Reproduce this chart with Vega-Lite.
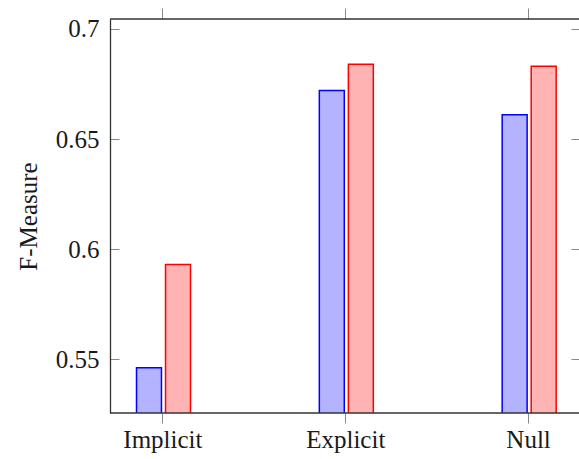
{
  "$schema": "https://vega.github.io/schema/vega-lite/v6.json",
  "autosize": "none",
  "width": 469,
  "height": 394,
  "padding": {"left": 110, "top": 19, "right": 0, "bottom": 46},
  "background": "white",
  "config": {
    "view": {"stroke": null},
    "font": "Liberation Serif, DejaVu Serif, serif",
    "axis": {
      "labelFont": "Liberation Serif, DejaVu Serif, serif",
      "titleFont": "Liberation Serif, DejaVu Serif, serif",
      "labelFontSize": 25,
      "titleFontSize": 25,
      "titleFontWeight": "normal",
      "labelColor": "#1a1a1a",
      "titleColor": "#1a1a1a",
      "domainColor": "#333",
      "domainWidth": 1.3,
      "tickColor": "#888",
      "tickWidth": 1,
      "grid": false
    }
  },
  "data": {
    "values": [
      {"category": "Implicit", "series": "A", "value": 0.5462},
      {"category": "Implicit", "series": "B", "value": 0.593},
      {"category": "Explicit", "series": "A", "value": 0.672},
      {"category": "Explicit", "series": "B", "value": 0.684},
      {"category": "Null", "series": "A", "value": 0.661},
      {"category": "Null", "series": "B", "value": 0.683}
    ]
  },
  "layer": [
    {
      "mark": {"type": "bar", "clip": true, "strokeWidth": 1.5},
      "encoding": {
        "x": {
          "field": "category",
          "type": "nominal",
          "sort": ["Implicit", "Explicit", "Null"],
          "scale": {"domain": ["Implicit", "Explicit", "Null"], "range": [-38.5, 510], "paddingInner": 0, "paddingOuter": 0},
          "axis": {"orient": "bottom", "title": null, "labelAngle": 0, "tickSize": 10, "labelPadding": 4, "domain": false}
        },
        "xOffset": {
          "field": "series",
          "type": "nominal",
          "scale": {"domain": ["A", "B"], "range": [65, 119], "paddingInner": 0.14, "paddingOuter": 0}
        },
        "y": {
          "field": "value",
          "type": "quantitative",
          "scale": {"domain": [0.5256, 0.7045], "zero": false, "nice": false},
          "axis": {"orient": "left", "title": "F-Measure", "values": [0.55, 0.6, 0.65, 0.7], "format": "~g", "tickSize": -9, "labelPadding": 20, "titlePadding": 14}
        },
        "fill": {
          "field": "series",
          "type": "nominal",
          "scale": {"domain": ["A", "B"], "range": ["#b3b3ff", "#ffb3b3"]},
          "legend": null
        },
        "stroke": {
          "field": "series",
          "type": "nominal",
          "scale": {"domain": ["A", "B"], "range": ["#0000ff", "#ff0000"]},
          "legend": null
        }
      }
    },
    {
      "mark": {"type": "bar", "opacity": 0},
      "encoding": {
        "x": {
          "field": "category",
          "type": "nominal",
          "sort": ["Implicit", "Explicit", "Null"],
          "scale": {"domain": ["Implicit", "Explicit", "Null"], "range": [-38.5, 510], "paddingInner": 0, "paddingOuter": 0},
          "axis": {"orient": "top", "title": null, "labels": false, "tickSize": 11, "domain": false}
        },
        "y": {
          "field": "value",
          "type": "quantitative",
          "scale": {"domain": [0.5256, 0.7045], "zero": false, "nice": false},
          "axis": {"orient": "right", "title": null, "labels": false, "domain": false, "values": [0.55, 0.6, 0.65, 0.7], "tickSize": -8}
        }
      }
    },
    {
      "data": {"values": [{"edge": 0.5256}, {"edge": 0.7045}]},
      "mark": {"type": "rule", "color": "#333", "strokeWidth": 1.3},
      "encoding": {
        "y": {"field": "edge", "type": "quantitative", "axis": null}
      }
    }
  ],
  "resolve": {"axis": {"x": "independent", "y": "independent"}}
}
